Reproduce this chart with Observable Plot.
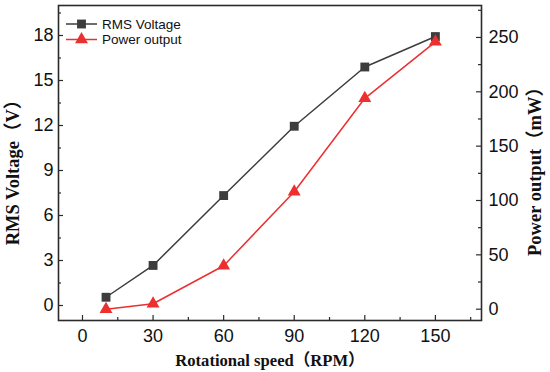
<!DOCTYPE html>
<html>
<head>
<meta charset="utf-8">
<script src="https://cdn.jsdelivr.net/npm/d3@7"></script>
<script src="https://cdn.jsdelivr.net/npm/@observablehq/plot@0.6"></script>
<style>
  html, body { margin: 0; padding: 0; background: #fff; }
  #wrap { position: relative; width: 550px; height: 372px; }
  #legend { position: absolute; left: 0; top: 0; pointer-events: none; }
</style>
</head>
<body>
<div id="wrap"></div>
<script>
// ---- data ----
const speed = [10, 30, 60, 90, 120, 150];
const voltage = [0.55, 2.67, 7.33, 11.95, 15.9, 17.93];
const power = [0, 5, 40, 108, 194, 246];

const xTicks = [0, 30, 60, 90, 120, 150];
const xMinorTicks = [15, 45, 75, 105, 135, 165];
const vTicks = [0, 3, 6, 9, 12, 15, 18];
const vMinorTicks = [1.5, 4.5, 7.5, 10.5, 13.5, 16.5, 19.5];
const pTicks = [0, 50, 100, 150, 200, 250];
const pMinorTicks = [25, 75, 125, 175, 225, 275];

const seriesNames = ["RMS Voltage", "Power output"];
const xTitle = "Rotational speed（RPM）";
const vTitle = "RMS Voltage（V）";
const pTitle = "Power output（mW）";

// ---- layout ----
const W = 550, H = 372;
const ml = 58, mr = 69, mt = 5, mb = 52;
const fw = W - ml - mr, fh = H - mt - mb;
const xDomain = [-10.2, 169.6];
const vDomain = [-1, 20];
const pDomain = [-10.4, 279.4];
const toLeft = p => vDomain[0] + (p - pDomain[0]) * (vDomain[1] - vDomain[0]) / (pDomain[1] - pDomain[0]);

const cV = "#3d3d3d";
const cP = "#ec2f2f";
const axisColor = "#2b2b2b";
const sansFont = "'Liberation Sans', Arial, Helvetica, sans-serif";
const serifFont = "'Liberation Serif', 'Times New Roman', 'Noto Sans CJK SC', serif";

const vData = speed.map((s, i) => ({s, v: voltage[i]}));
const pData = speed.map((s, i) => ({s, p: power[i]}));

const chart = Plot.plot({
  width: W, height: H,
  marginLeft: ml, marginRight: mr, marginTop: mt, marginBottom: mb,
  x: {domain: xDomain, axis: null},
  y: {domain: vDomain, axis: null},
  style: {fontFamily: sansFont, background: "#fff"},
  marks: [
    // inward ticks
    Plot.ruleY(vTicks, {y: d => d, insetRight: fw - 5, stroke: axisColor, strokeWidth: 1.2}),
    Plot.ruleY(vMinorTicks, {y: d => d, insetRight: fw - 3, stroke: axisColor, strokeWidth: 1.2}),
    Plot.ruleY(pTicks, {y: d => toLeft(d), insetLeft: fw - 5, stroke: axisColor, strokeWidth: 1.2}),
    Plot.ruleY(pMinorTicks, {y: d => toLeft(d), insetLeft: fw - 3, stroke: axisColor, strokeWidth: 1.2}),
    Plot.ruleX(xTicks, {x: d => d, insetTop: fh - 5, stroke: axisColor, strokeWidth: 1.2}),
    Plot.ruleX(xMinorTicks, {x: d => d, insetTop: fh - 3, stroke: axisColor, strokeWidth: 1.2}),
    Plot.frame({stroke: axisColor, strokeWidth: 1.6}),
    // tick labels
    Plot.text(vTicks, {y: d => d, text: d => String(d), frameAnchor: "left", dx: -5, textAnchor: "end", fontSize: 18, fill: "#111"}),
    Plot.text(pTicks, {y: d => toLeft(d), text: d => String(d), frameAnchor: "right", dx: 7, textAnchor: "start", fontSize: 18, fill: "#111"}),
    Plot.text(xTicks, {x: d => d, text: d => String(d), frameAnchor: "bottom", dy: 9, lineAnchor: "top", fontSize: 18, fill: "#111"}),
    // titles
    Plot.text([xTitle], {text: d => d, frameAnchor: "bottom", textAnchor: "middle", dy: 40, lineAnchor: "middle", fontFamily: serifFont, fontWeight: "bold", fontSize: 16.6, fill: "#111"}),
    Plot.text([vTitle], {text: d => d, frameAnchor: "left", textAnchor: "middle", dx: -45, dy: 5, rotate: -90, lineAnchor: "middle", fontFamily: serifFont, fontWeight: "bold", fontSize: 18.5, fill: "#111"}),
    Plot.text([pTitle], {text: d => d, frameAnchor: "right", textAnchor: "middle", dx: 54, dy: 4, rotate: -90, lineAnchor: "middle", fontFamily: serifFont, fontWeight: "bold", fontSize: 18.5, fill: "#111"}),
    // series
    Plot.line(vData, {x: "s", y: "v", stroke: cV, strokeWidth: 1.5}),
    Plot.line(pData, {x: "s", y: d => toLeft(d.p), stroke: cP, strokeWidth: 1.5}),
    Plot.dot(vData, {x: "s", y: "v", symbol: "square", r: 5, fill: cV, stroke: "none"}),
    Plot.dot(pData, {x: "s", y: d => toLeft(d.p), symbol: "triangle", r: 4.8, fill: cP, stroke: "none"})
  ]
});

const wrap = document.getElementById("wrap");
wrap.appendChild(chart);

// legend overlay
const leg = d3.create("svg").attr("id", "legend").attr("width", 200).attr("height", 60);
const items = [
  {name: seriesNames[0], color: cV, sym: d3.symbolSquare, size: Math.PI * 25},
  {name: seriesNames[1], color: cP, sym: d3.symbolTriangle, size: Math.PI * 4.8 * 4.8}
];
items.forEach((it, i) => {
  const y = 24 + i * 15.5;
  const g = leg.append("g");
  g.append("line").attr("x1", 66).attr("x2", 97).attr("y1", y).attr("y2", y)
    .attr("stroke", it.color).attr("stroke-width", 1.5);
  g.append("path").attr("d", d3.symbol(it.sym, it.size)()).attr("transform", `translate(81.5,${y})`).attr("fill", it.color);
  g.append("text").attr("x", 102).attr("y", y).attr("dy", "0.35em")
    .attr("font-family", sansFont).attr("font-size", 13.5).attr("fill", "#111").text(it.name);
});
wrap.appendChild(leg.node());
</script>
</body>
</html>
